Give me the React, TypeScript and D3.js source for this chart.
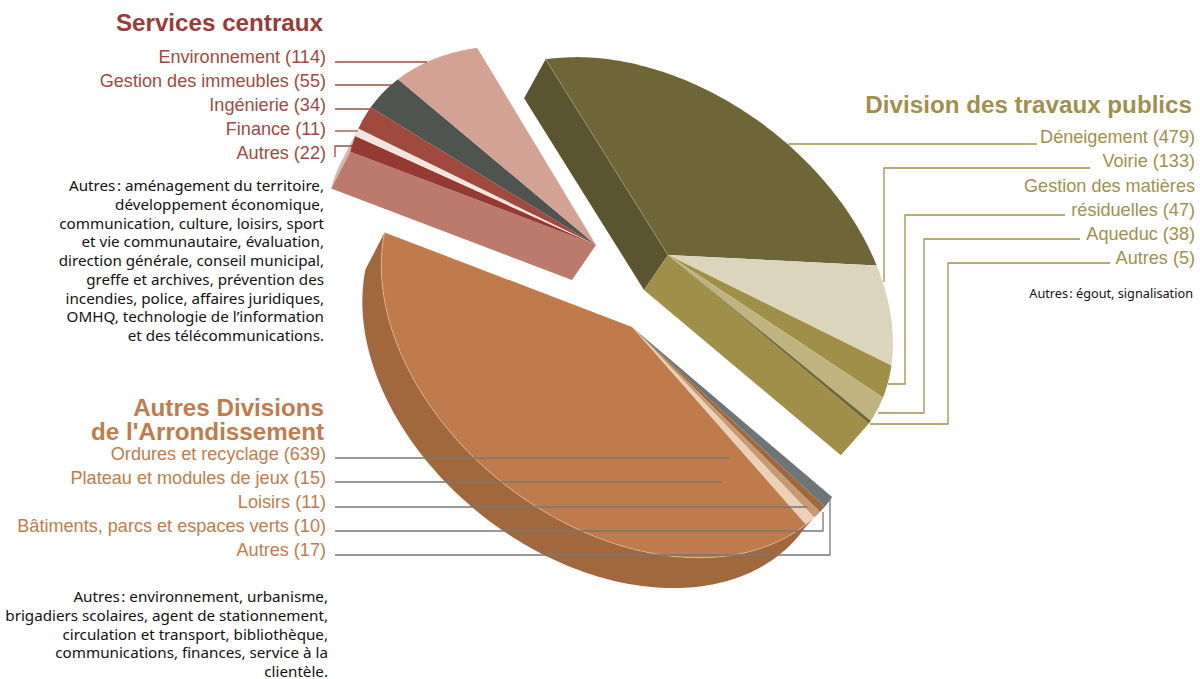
import React from "react";
import * as d3 from "d3";

const travauxNames = ["Déneigement", "Voirie", "Gestion des matières résiduelles", "Aqueduc", "Autres"];
const travauxValues = [479, 133, 47, 38, 5];
const divisionsNames = ["Autres", "Bâtiments, parcs et espaces verts", "Loisirs", "Plateau et modules de jeux", "Ordures et recyclage"];
const divisionsValues = [17, 10, 11, 15, 639];
const servicesNames = ["Autres", "Finance", "Ingénierie", "Gestion des immeubles", "Environnement"];
const servicesValues = [22, 11, 34, 55, 114];

const travauxColors = ["#6f6638", "#dcd5bd", "#9f8f48", "#bfb37f", "#6f6638"];
const divisionsColors = ["#6d7578", "#a2683d", "#c69a75", "#ecd0b8", "#bf7b4b"];
const servicesColors = ["#953933", "#f2e4de", "#a04a3f", "#4f5450", "#d4a195"];

const all = [...travauxValues, ...divisionsValues, ...servicesValues];
const arcs = d3.pie<number>().sort(null).startAngle(0).endAngle(2 * Math.PI)(all);

// Perspective of the tilted disc, one per exploded block.
const PT = [194.4297, 128.5124, -46.5758, 205.4505, 0.081, -0.0502];
const PD = [198.5384, 129.3975, -50.6573, 212.0881, 0.0839, -0.0337];
const PS = [202.5474, 123.1746, -45.5455, 204.2984, 0.0807, -0.0361];
const proj0 = (p: number[], t: number) => {
  const x = Math.sin(t), y = -Math.cos(t), w = 1 + p[4] * x + p[5] * y;
  return [(p[0] * x + p[1] * y) / w, (p[2] * x + p[3] * y) / w];
};

const apexT: [number, number] = [668, 255];
const apexD: [number, number] = [632, 327];
const apexS: [number, number] = [596, 245];
const depth: [number, number] = [-24, 35];
const depthScale = 0.98;
const line = d3.line();

const arcPoints = (a0: number, a1: number, apex: [number, number], P: number[]) => {
  const n = Math.max(2, Math.ceil((a1 - a0) / 0.02));
  return d3.range(n + 1).map((i) => {
    const q = proj0(P, a0 + ((a1 - a0) * i) / n);
    return [apex[0] + q[0], apex[1] + q[1]] as [number, number];
  });
};
const shift = (p: [number, number], apex: [number, number]) =>
  [apex[0] + depth[0] + depthScale * (p[0] - apex[0]), apex[1] + depth[1] + depthScale * (p[1] - apex[1])] as [number, number];
const wedge = (a: any, apex: [number, number], P: number[]) => line([apex, ...arcPoints(a.startAngle, a.endAngle, apex, P)])! + "Z";
const wall = (a0: number, a1: number, apex: [number, number], P: number[]) => {
  const p = arcPoints(a0, a1, apex, P);
  return line([...p, ...p.slice().reverse().map((q) => shift(q, apex))])! + "Z";
};
const edge = (t: number, apex: [number, number], P: number[]) => {
  const p = arcPoints(t, t, apex, P)[0];
  return line([apex, p, shift(p, apex), shift(apex, apex)])! + "Z";
};

const tArcs = arcs.slice(0, 5), dArcs = arcs.slice(5, 10), sArcs = arcs.slice(10, 15);
const LAB = "'Liberation Sans', Arial, sans-serif";
const NOTE = "'Noto Sans', sans-serif";
const cS = "#a04a3f", cT = "#a0914a", cD = "#c07c4c", cG = "#777777";

const lab = (x: number, y: number, s: string, fill: string) => (
  <text key={s + y} x={x} y={y} textAnchor="end" fontFamily={LAB} fontSize={18.1} fill={fill}>{s}</text>
);
const title = (x: number, y: number, s: string, fill: string) => (
  <text key={s} x={x} y={y} textAnchor="end" fontFamily={LAB} fontWeight="bold" fontSize={24.2} fill={fill}>{s}</text>
);
const note = (x: number, y: number, s: string, size = 15.2) => (
  <text key={s} x={x} y={y} textAnchor="end" fontFamily={NOTE} fontSize={size} fill="#111">{s}</text>
);
const lead = (pts: [number, number][], stroke: string, k: string) => (
  <path key={k} d={line(pts)!} fill="none" stroke={stroke} strokeWidth={1.3} />
);

const note1 = ["Autres\u200a: aménagement du territoire,", "développement économique,", "communication, culture, loisirs, sport", "et vie communautaire, évaluation,", "direction générale, conseil municipal,", "greffe et archives, prévention des", "incendies, police, affaires juridiques,", "OMHQ, technologie de l’information", "et des télécommunications."];
const note2 = ["Autres\u200a: environnement, urbanisme,", "brigadiers scolaires, agent de stationnement,", "circulation et transport, bibliothèque,", "communications, finances, service à la", "clientèle."];

export default function App() {
  const fmt = (n: string, v: number) => `${n} (${v})`;
  const tStart = arcPoints(0, 0, apexT, PT)[0];
  return (
    <svg width={1200} height={679} viewBox="0 0 1200 679" style={{ position: "absolute", left: 0, top: 0, background: "#fff" }}>
      <path d={wall(dArcs[0].startAngle, dArcs[4].endAngle, apexD, PD)} fill="#a2683d" />
      {dArcs.map((a, i) => <path key={i} d={wedge(a, apexD, PD)} fill={divisionsColors[i]} />)}
      <path d={line(arcPoints(dArcs[4].startAngle, dArcs[4].endAngle, apexD, PD))!} fill="none" stroke="#e6c6aa" strokeWidth={0.6} />
      <path d={wall(sArcs[0].startAngle, sArcs[1].endAngle, apexS, PS)} fill="#d6b5aa" />
      <path d={edge(sArcs[0].startAngle, apexS, PS)} fill="#bc7a6c" />
      {sArcs.map((a, i) => <path key={i} d={wedge(a, apexS, PS)} fill={servicesColors[i]} />)}
      <path d={edge(tArcs[0].startAngle, apexT, PT)} fill="#5a5430" />
      <path d={edge(tArcs[4].endAngle, apexT, PT)} fill="#9f8f48" />
      {tArcs.map((a, i) => <path key={i} d={wedge(a, apexT, PT)} fill={travauxColors[i]} />)}
      <path d={line([apexT, tStart])!} fill="none" stroke="#a8a27a" strokeWidth={0.6} />

      {title(323, 31, "Services centraux", "#9a3b36")}
      {lab(326, 63, fmt(servicesNames[4], servicesValues[4]), cS)}
      {lab(326, 87, fmt(servicesNames[3], servicesValues[3]), cS)}
      {lab(326, 111, fmt(servicesNames[2], servicesValues[2]), cS)}
      {lab(326, 135, fmt(servicesNames[1], servicesValues[1]), cS)}
      {lab(326, 159, fmt(servicesNames[0], servicesValues[0]), cS)}
      {lead([[335, 62], [427, 62]], cS, "s1")}
      {lead([[335, 85], [392, 85]], cS, "s2")}
      {lead([[335, 109], [370, 109]], cS, "s3")}
      {lead([[335, 131], [358, 131]], cS, "s4")}
      {lead([[335, 157], [335, 146], [352, 146]], cS, "s5")}
      {note1.map((s, i) => note(324, 191 + i * 18.75, s))}

      {title(1192, 113, "Division des travaux publics", cT)}
      {lab(1195, 143, fmt(travauxNames[0], travauxValues[0]), cT)}
      {lab(1195, 167, fmt(travauxNames[1], travauxValues[1]), cT)}
      {lab(1195, 192, "Gestion des matières", cT)}
      {lab(1195, 216, `résiduelles (${travauxValues[2]})`, cT)}
      {lab(1195, 240, fmt(travauxNames[3], travauxValues[3]), cT)}
      {lab(1195, 264, fmt(travauxNames[4], travauxValues[4]), cT)}
      {lead([[1037, 144], [788, 144]], cT, "t1")}
      {lead([[1090, 168], [884, 168], [884, 282]], cT, "t2")}
      {lead([[1065, 215], [905, 215], [905, 384], [888, 384]], cT, "t3")}
      {lead([[1080, 239], [924, 239], [924, 413], [878, 413]], cT, "t4")}
      {lead([[1110, 263], [948, 263], [948, 424], [870, 424]], cT, "t5")}
      {note(1193, 298, "Autres\u200a: égout, signalisation", 12.7)}

      {title(324, 416, "Autres Divisions", cD)}
      {title(324, 440, "de l'Arrondissement", cD)}
      {lab(326, 460, fmt(divisionsNames[4], divisionsValues[4]), cD)}
      {lab(326, 484, fmt(divisionsNames[3], divisionsValues[3]), cD)}
      {lab(326, 508, fmt(divisionsNames[2], divisionsValues[2]), cD)}
      {lab(326, 532, fmt(divisionsNames[1], divisionsValues[1]), cD)}
      {lab(326, 556, fmt(divisionsNames[0], divisionsValues[0]), cD)}
      {lead([[335, 458], [729, 458]], cG, "d1")}
      {lead([[335, 482], [722, 482]], cG, "d2")}
      {lead([[335, 507], [807, 507]], cG, "d3")}
      {lead([[335, 531], [823, 531], [823, 512]], cG, "d4")}
      {lead([[335, 555], [830, 555], [830, 500]], cG, "d5")}
      {note2.map((s, i) => note(328, 602 + i * 18.75, s))}
    </svg>
  );
}
